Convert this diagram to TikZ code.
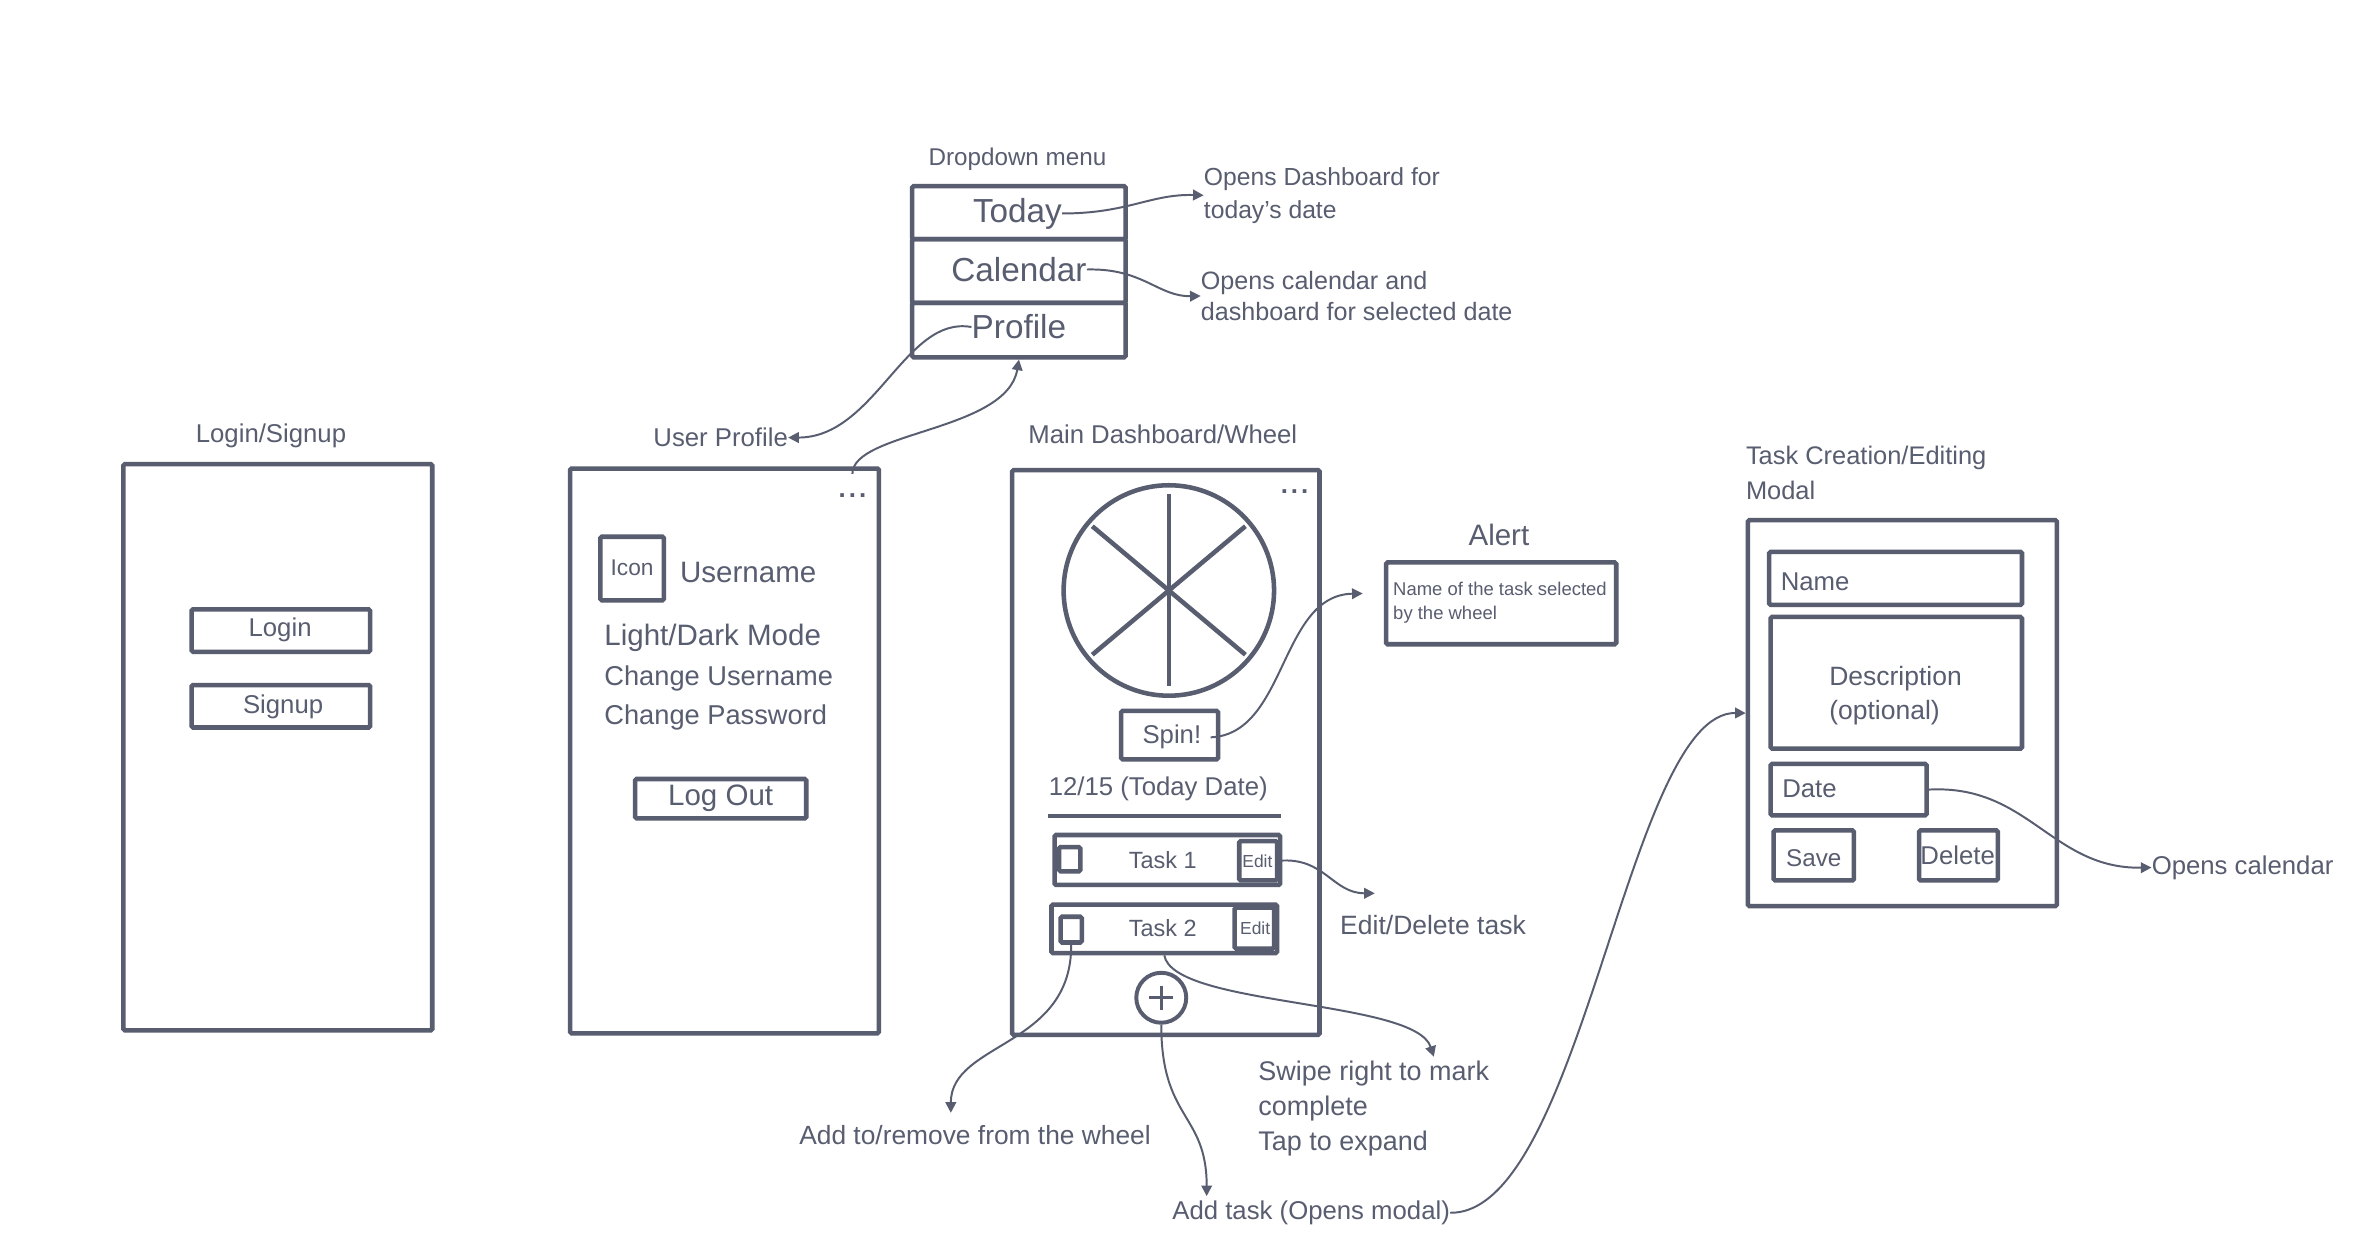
\documentclass[tikz,border=0pt]{standalone}
\usepackage{fontspec}
\setmainfont{Liberation Sans}
\usetikzlibrary{arrows.meta}
\definecolor{ink}{RGB}{88,93,112}
\begin{document}
\begin{tikzpicture}[x=1pt,y=-1pt,
  every node/.style={text=ink, font=\fontsize{17}{22}\selectfont, inner sep=0pt},
  box/.style={draw=ink, line width=3pt, rounded corners=1pt},
  conn/.style={draw=ink, line width=1.3pt, -{Triangle[length=7pt,width=7pt]}},
  spoke/.style={draw=ink, line width=3pt},
  dots/.style={font=\bfseries\fontsize{17}{20}\selectfont},
  txt/.style={align=left}
]
\fill[white] (0,0) rectangle (1568,827);
\useasboundingbox (0,0) rectangle (1568,827);

% ---------- Login / Signup ----------
\node (logintitle) at (179,288) {Login/Signup};
\node (loginscr) [box, minimum width=204pt, minimum height=374pt] at (183.5,493.5) {};
\node (loginbtn) [box, minimum width=118pt, minimum height=28pt] at (185.5,416.5) {};
\node (logintxt) at (185,416) {Login};
\node (signupbtn) [box, minimum width=118pt, minimum height=28pt] at (185.5,466.5) {};
\node (signuptxt) at (187,467) {Signup};

% ---------- User Profile ----------
\node (uptitle) at (476,289) {User Profile};
\node (profscr) [box, minimum width=204pt, minimum height=373pt] at (478.5,496) {};
\node (pdots) [dots] at (563,327) {.\hspace{2pt}.\hspace{2pt}.};
\coordinate (pdtop) at (563,313);
\node (iconbox) [box, minimum width=42pt, minimum height=42pt] at (417.5,375.5) {};
\node (icontxt) [font=\fontsize{15}{18}\selectfont] at (417.5,375) {Icon};
\node (username) [anchor=west, font=\fontsize{19.5}{22}\selectfont] at (449,378) {Username};
\node (lightdark) [anchor=west, font=\fontsize{19.5}{22}\selectfont] at (399,421) {Light/Dark Mode};
\node (chuser) [anchor=west, font=\fontsize{18}{22}\selectfont] at (399,448) {Change Username};
\node (chpass) [anchor=west, font=\fontsize{18}{22}\selectfont] at (399,474) {Change Password};
\node (logoutbtn) [box, minimum width=113pt, minimum height=26pt] at (476,527.5) {};
\node (logouttxt) [font=\fontsize{19.5}{22}\selectfont] at (476,527) {Log Out};

% ---------- Dropdown ----------
\node (ddtitle) [font=\fontsize{16}{20}\selectfont] at (672,105) {Dropdown menu};
\node (todaycell) [box, minimum width=141pt, minimum height=35pt] at (673,140.5) {};
\node (calcell) [box, minimum width=141pt, minimum height=42pt] at (673,179) {};
\node (profcell) [box, minimum width=141pt, minimum height=36pt] at (673,218) {};
\node (todaytxt) [font=\fontsize{22}{26}\selectfont] at (672,141) {Today};
\node (caltxt) [font=\fontsize{22}{26}\selectfont] at (673,178) {Calendar};
\node (proftxt) [font=\fontsize{22}{26}\selectfont] at (673,216) {Profile};
\node (odash) [txt, anchor=west, font=\fontsize{16.3}{22}\selectfont] at (795,129) {Opens Dashboard for\\today's date};
\node (ocal) [txt, anchor=west, font=\fontsize{16.6}{21}\selectfont] at (793,195.5) {Opens calendar and\\dashboard for selected date};

% ---------- Main Dashboard ----------
\node (dashtitle) at (768,287) {Main Dashboard/Wheel};
\node (dashscr) [box, minimum width=203pt, minimum height=373pt] at (770,497) {};
\node (ddots) [dots] at (855,325) {.\hspace{2pt}.\hspace{2pt}.};
\node (wheel) [draw=ink, line width=3pt, circle, minimum size=139pt] at (772,390) {};
\foreach \a/\l in {90/63, 270/64, 40/66, 140/66, 220/66, 320/66}
  \draw[spoke] (wheel.center) -- ++(\a:\l);
\node (spinbtn) [box, minimum width=64pt, minimum height=32pt] at (772.5,485.5) {};
\node (spintxt) at (774,487) {Spin!};
\node (datetxt) at (765,521) {12/15 (Today Date)};
\coordinate (dl1) at (692,539);
\coordinate (dl2) at (846,539);
\draw[spoke] (dl1) -- (dl2);
\node (task1) [box, minimum width=149pt, minimum height=33pt] at (771,568) {};
\node (cb1) [box, minimum width=14pt, minimum height=16pt] at (706.5,567.5) {};
\node (t1txt) [font=\fontsize{15.5}{20}\selectfont] at (768,568) {Task 1};
\node (edit1) [box, minimum width=25pt, minimum height=26pt] at (831,568.5) {};
\node (e1txt) [font=\fontsize{11.5}{14}\selectfont] at (830.5,569) {Edit};
\node (task2) [box, minimum width=149pt, minimum height=32pt] at (769,613.5) {};
\node (cb2) [box, minimum width=14pt, minimum height=17pt] at (707.5,614) {};
\node (t2txt) [font=\fontsize{15.5}{20}\selectfont] at (768,613) {Task 2};
\node (edit2) [box, minimum width=26pt, minimum height=27pt] at (828.5,613) {};
\node (e2txt) [font=\fontsize{11.5}{14}\selectfont] at (829,613) {Edit};
\node (plus) [draw=ink, line width=2.6pt, circle, minimum size=33pt] at (767,659) {};
\draw[ink, line width=2pt] (plus.center) ++(-8,0) -- ++(16,0);
\draw[ink, line width=2pt] (plus.center) ++(0,-8) -- ++(0,16);

% ---------- Alert ----------
\node (alerttitle) [font=\fontsize{19.5}{22}\selectfont] at (990,353) {Alert};
\node (alert) [box, minimum width=152pt, minimum height=54pt] at (991.5,398.5) {};
\node (alerttxt) [txt, anchor=north west, font=\fontsize{12.2}{16}\selectfont] at (920,384) {Name of the task selected\\by the wheel};

% ---------- Annotations ----------
\node (edtxt) [anchor=west, font=\fontsize{17.5}{22}\selectfont] at (885,611) {Edit/Delete task};
\node (addrem) [font=\fontsize{17.4}{22}\selectfont] at (644,750) {Add to/remove from the wheel};
\node (swipe) [txt, anchor=west, font=\fontsize{17.8}{23}\selectfont] at (831,732) {Swipe right to mark\\complete\\Tap to expand};
\node (addtask) at (866,801) {Add task (Opens modal)};

% ---------- Task Creation ----------
\node (tctitle) [txt, anchor=west, font=\fontsize{16.8}{23}\selectfont] at (1153,312.5) {Task Creation/Editing\\Modal};
\node (taskscr) [box, minimum width=204pt, minimum height=255pt] at (1256.5,471) {};
\node (namefld) [box, minimum width=167pt, minimum height=35pt] at (1252,382) {};
\node (nametxt) [anchor=west] at (1176,384) {Name};
\node (descfld) [box, minimum width=166pt, minimum height=87pt] at (1252.5,451) {};
\node (desctxt) [txt, anchor=west, font=\fontsize{17.5}{23}\selectfont] at (1208,459.5) {Description\\(optional)};
\node (datefld) [box, minimum width=103pt, minimum height=34pt] at (1221,521.5) {};
\node (datefldtxt) [anchor=west] at (1177,521) {Date};
\node (savebtn) [box, minimum width=53pt, minimum height=33pt] at (1198,565) {};
\node (savetxt) [font=\fontsize{16}{20}\selectfont] at (1198,567) {Save};
\node (delbtn) [box, minimum width=52pt, minimum height=33pt] at (1293.5,565) {};
\node (deltxt) at (1293,565) {Delete};
\node (ocal2) [anchor=west] at (1421,573) {Opens calendar};

% ---------- Connectors ----------
\coordinate (alertin) at (900,392);
\coordinate (edtip) at (908,590);
\coordinate (addremtip) at (628,735);
\coordinate (swipetip) at (947,698);
\coordinate (addtasktip) at (797,790);

\draw[conn] (todaytxt.east) .. controls (745,141) and (760,128) .. (odash.west);
\draw[conn] (caltxt.east) .. controls (755,177) and (765,196) .. (ocal.west);
\draw[conn] (proftxt.west) .. controls (598,208) and (578,289) .. (uptitle.east);
\draw[conn] (pdtop) .. controls (563,285) and (665,285) .. (profcell.south);
\draw[conn] (spintxt.east) ++(6,0) .. controls (850,485) and (845,393) .. (alertin);
\draw[conn] (edit1.east) .. controls (875,566) and (880,590) .. (edtip);
\draw[conn] (cb2.south) .. controls (708,692) and (628,688) .. (addremtip);
\draw[conn] (task2.south) .. controls (775,665) and (935,660) .. (swipetip);
\draw[conn] (plus.south) .. controls (767,740) and (797,735) .. (addtasktip);
\draw[conn] (addtask.east) .. controls (1045,802) and (1075,470) .. (taskscr.west);
\draw[conn] (datefld.east) .. controls (1340,518) and (1355,574) .. (ocal2.west);
\end{tikzpicture}
\end{document}
